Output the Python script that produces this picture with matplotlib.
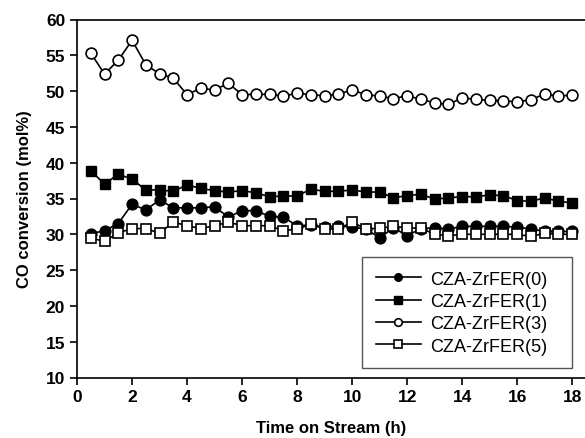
import matplotlib
matplotlib.use('Agg')
import matplotlib.pyplot as plt

plt.rcParams['font.family'] = ['Liberation Sans', 'DejaVu Sans']

# Time on stream (h)
time_h = [0.5, 1.0, 1.5, 2.0, 2.5, 3.0, 3.5, 4.0, 4.5, 5.0, 5.5, 6.0,
          6.5, 7.0, 7.5, 8.0, 8.5, 9.0, 9.5, 10.0, 10.5, 11.0, 11.5, 12.0,
          12.5, 13.0, 13.5, 14.0, 14.5, 15.0, 15.5, 16.0, 16.5, 17.0, 17.5, 18.0]

# CO conversion (mol%) per catalyst
cza0 = [30.1, 30.5, 31.5, 34.2, 33.4, 34.8, 33.7, 33.7, 33.7, 33.85, 32.4, 33.3,
        33.3, 32.5, 32.4, 31.2, 31.3, 31.0, 31.2, 31.0, 30.75, 29.5, 30.9, 29.8,
        30.8, 30.9, 30.75, 31.1, 31.1, 31.1, 31.1, 31.0, 30.75, 30.4, 30.4, 30.4]
cza1 = [38.9, 37.0, 38.4, 37.7, 36.2, 36.2, 36.0, 36.9, 36.4, 36.1, 35.9, 36.1,
        35.8, 35.25, 35.35, 35.35, 36.3, 36.0, 36.0, 36.2, 35.9, 35.9, 35.1, 35.4,
        35.6, 34.9, 35.1, 35.25, 35.25, 35.5, 35.4, 34.7, 34.6, 35.1, 34.6, 34.4]
cza3 = [55.3, 52.4, 54.3, 57.1, 53.7, 52.4, 51.8, 49.5, 50.4, 50.15, 51.1, 49.5,
        49.55, 49.55, 49.3, 49.7, 49.5, 49.35, 49.6, 50.15, 49.5, 49.3, 48.95, 49.35,
        48.85, 48.35, 48.15, 49.05, 48.85, 48.7, 48.65, 48.5, 48.8, 49.6, 49.3, 49.45]
cza5 = [29.5, 29.0, 30.2, 30.8, 30.8, 30.15, 31.7, 31.2, 30.8, 31.2, 31.7, 31.2,
        31.2, 31.2, 30.5, 30.75, 31.4, 30.75, 30.75, 31.7, 30.75, 30.85, 31.1, 30.9,
        30.85, 30.0, 29.8, 30.0, 30.0, 30.0, 30.0, 30.0, 29.7, 30.15, 30.0, 30.0]

labels = ['CZA-ZrFER(0)', 'CZA-ZrFER(1)', 'CZA-ZrFER(3)', 'CZA-ZrFER(5)']

fig = plt.figure(figsize=(5.85, 4.39), dpi=100)
ax = fig.add_axes([77/585, 60.5/439, 509/585, 358/439])

ms = 7.8
ax.plot(time_h, cza0, 'k-', marker='o', ms=ms, mfc='k', mec='k', lw=1.2, label=labels[0])
ax.plot(time_h, cza1, 'k-', marker='s', ms=ms - 0.5, mfc='k', mec='k', lw=1.2, label=labels[1])
ax.plot(time_h, cza3, 'k-', marker='o', ms=ms, mfc='w', mec='k', mew=1.2, lw=1.2, label=labels[2])
ax.plot(time_h, cza5, 'k-', marker='s', ms=ms - 0.5, mfc='w', mec='k', mew=1.2, lw=1.2, label=labels[3])

ax.set_xlim(0, 18.5)
ax.set_ylim(10, 60)
ax.set_xticks(range(0, 19, 2))
ax.set_yticks(range(10, 61, 5))
ax.tick_params(direction='out', length=5, width=1.2, labelsize=12.5)
for lab in ax.get_xticklabels() + ax.get_yticklabels():
    lab.set_fontweight('bold')
for sp in ax.spines.values():
    sp.set_linewidth(1.2)

ax.set_xlabel('Time on Stream (h)', fontsize=12, fontweight='bold', labelpad=11)
ax.set_ylabel('CO conversion (mol%)', fontsize=12, fontweight='bold', labelpad=10)

leg = ax.legend(loc='upper left', bbox_to_anchor=(362/585, 1 - 365/439, 210/585, 107/439),
                bbox_transform=fig.transFigure, mode='expand', borderaxespad=0,
                fontsize=13, fancybox=False, framealpha=1, edgecolor='#555555',
                handlelength=2.5, handletextpad=0.55, labelspacing=0.3,
                borderpad=0.75, markerscale=0.7)
leg.get_frame().set_linewidth(1.0)

plt.savefig('out.png', dpi=100)
